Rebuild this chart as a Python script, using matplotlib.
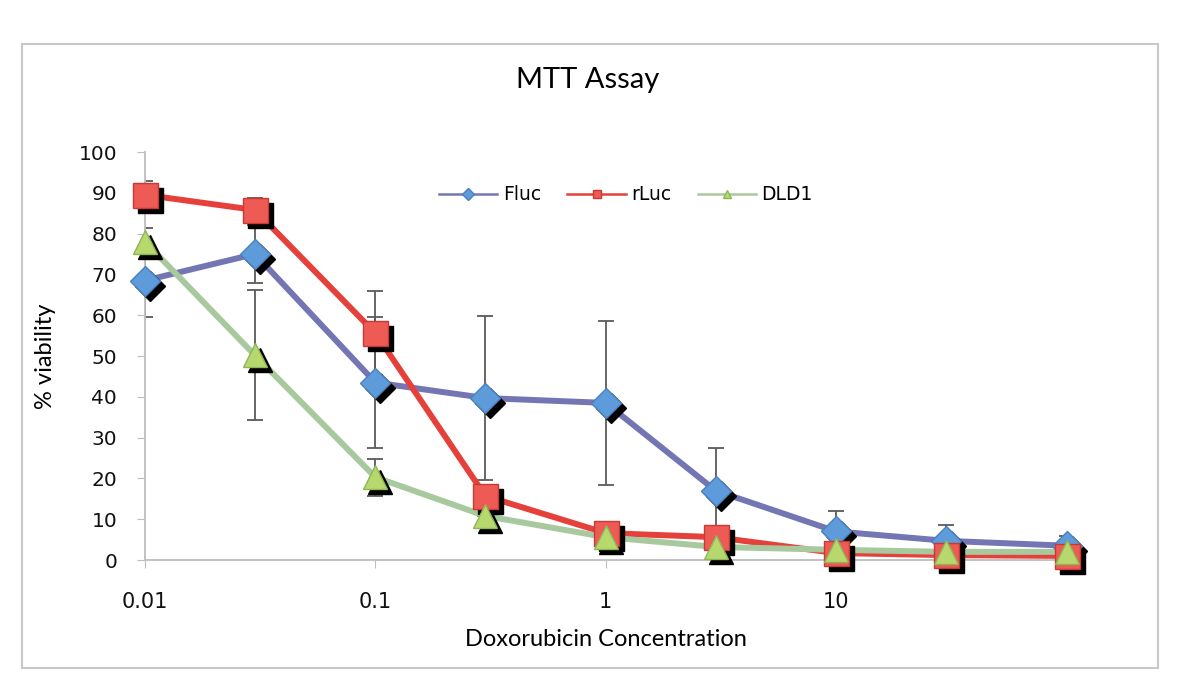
import matplotlib
matplotlib.use("Agg")
import matplotlib.pyplot as plt
from matplotlib.patches import Rectangle
from matplotlib.transforms import ScaledTranslation

# Doxorubicin concentrations (log x axis)
conc = [0.01, 0.03, 0.1, 0.3, 1, 3, 10, 30, 100]

fluc = [68.5, 75, 43.5, 39.7, 38.5, 17, 7, 4.7, 3.5]
fluc_err = [9, 7, 16, 20, 20, 10.5, 5, 3.8, 2.5]

rluc = [89.5, 85.8, 55.6, 15.7, 6.6, 5.6, 1.7, 1.2, 1.0]
rluc_err = [3.5, 3, 10.3, 0, 0, 0, 0, 0, 0]

dld1 = [78, 50.2, 20.3, 10.8, 5.6, 3.2, 2.5, 2.0, 2.0]
dld1_err = [3.5, 16, 4.5, 0, 0, 0, 0, 0, 0]

x_ticks = [0.01, 0.1, 1, 10]
x_tick_labels = ["0.01", "0.1", "1", "10"]
y_ticks = list(range(0, 101, 10))

# label -> (values, errors, line colour, marker, marker face, marker edge, size)
series = [
    ("Fluc", fluc, fluc_err, "#7476B4", "D", "#5E9BDB", "#4A7FC0", 15),
    ("rLuc", rluc, rluc_err, "#E5403A", "s", "#EE5A54", "#C83A34", 18),
    ("DLD1", dld1, dld1_err, "#A8C99E", "^", "#B6D86C", "#8EB55A", 17),
]

fig = plt.figure(figsize=(12, 6.98), dpi=100)
ax = fig.add_axes([0.1208, 0.1977, 0.768, 0.5845])

# chart-area frame
fig.patches.append(Rectangle((0.0183, 0.043), 0.9467, 0.894, transform=fig.transFigure,
                             fill=False, edgecolor="#C8C8C8", linewidth=1.5))

shadow = ax.transData + ScaledTranslation(5 / 100, -5 / 100, fig.dpi_scale_trans)

for label, ys, err, lc, mk, mf, me, ms in series:
    ax.errorbar(conc, ys, yerr=err, fmt="none", ecolor="#5A5A5A", elinewidth=1.3,
                capsize=6, capthick=1.3, zorder=2)
    ax.plot(conc, ys, color=lc, linewidth=4.3, zorder=3, clip_on=False)
    ax.plot(conc, ys, linestyle="none", marker=mk, markersize=ms, color="black",
            transform=shadow, zorder=4, clip_on=False)
    ax.plot(conc, ys, linestyle="none", marker=mk, markersize=ms, markerfacecolor=mf,
            markeredgecolor=me, markeredgewidth=1.0, zorder=5, clip_on=False)

# legend proxies
handles = []
for label, ys, err, lc, mk, mf, me, ms in series:
    h, = ax.plot([], [], color=lc, linewidth=1.8, marker=mk, markersize=6,
                 markerfacecolor=mf, markeredgecolor=me, label=label)
    handles.append(h)
ax.legend(handles=handles, loc="center", bbox_to_anchor=(0.522, 0.895), ncol=3,
          frameon=False, fontsize=13.5, handlelength=3.1, columnspacing=1.4,
          handletextpad=0.3)

ax.set_xscale("log")
ax.set_xlim(0.01, 100)
ax.set_ylim(0, 100)
ax.set_xticks(x_ticks)
ax.set_xticklabels(x_tick_labels)
ax.xaxis.set_minor_locator(matplotlib.ticker.NullLocator())
ax.set_yticks(y_ticks)

for s in ["top", "right"]:
    ax.spines[s].set_visible(False)
for s in ["left", "bottom"]:
    ax.spines[s].set_color("#BDBDBD")
    ax.spines[s].set_linewidth(1.3)

ax.tick_params(axis="x", direction="out", length=6, color="#BDBDBD", pad=17,
               labelsize=15, labelcolor="#111111")
ax.tick_params(axis="y", direction="out", length=6, color="#BDBDBD", pad=14,
               labelsize=14.5, labelcolor="#111111")

ax.set_xlabel("Doxorubicin Concentration", fontsize=17, family="Lato", labelpad=12)
ax.set_ylabel("% viability", fontsize=17, family="Lato", labelpad=16)
fig.text(0.49, 0.885, "MTT Assay", ha="center", va="center", fontsize=21, family="Lato")

fig.savefig("out.png", dpi=100)
